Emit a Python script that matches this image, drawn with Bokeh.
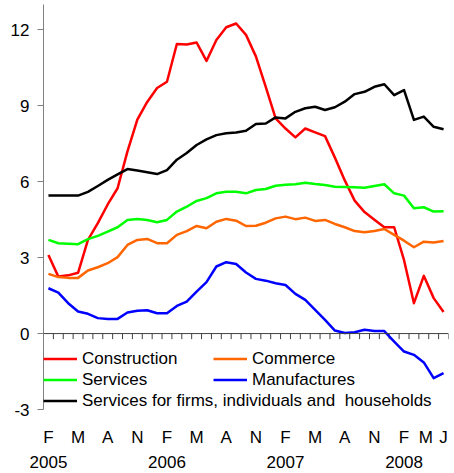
import numpy as np
import pandas as pd
from bokeh.plotting import figure
from bokeh.models import Range1d, LinearAxis, FixedTicker, Span, Legend, LegendItem
from bokeh.embed import file_html
from bokeh.resources import INLINE

# Monthly periods: Feb 2005 .. Jun 2008
periods = pd.date_range("2005-02-01", "2008-06-01", freq="MS")

construction = [3.1, 2.25, 2.3, 2.4, 3.7, 4.36, 5.1, 5.74, 7.2, 8.45,
                9.15, 9.7, 9.95, 11.44, 11.42, 11.5, 10.77, 11.6, 12.1, 12.25,
                11.8, 10.95, 9.75, 8.5, 8.1, 7.75, 8.1, 7.95, 7.8, 6.95,
                6.05, 5.25, 4.8, 4.5, 4.2, 4.2, 2.9, 1.2, 2.28, 1.4, 0.85]
commerce = [2.36, 2.23, 2.2, 2.2, 2.49, 2.62, 2.78, 3.02, 3.5, 3.7,
            3.74, 3.57, 3.57, 3.9, 4.05, 4.25, 4.16, 4.42, 4.53, 4.46,
            4.25, 4.26, 4.38, 4.55, 4.62, 4.52, 4.58, 4.45, 4.49, 4.33,
            4.2, 4.05, 4.0, 4.05, 4.13, 3.9, 3.67, 3.41, 3.63, 3.6, 3.66]
services = [3.7, 3.57, 3.55, 3.53, 3.73, 3.86, 4.03, 4.2, 4.49, 4.53,
            4.49, 4.4, 4.49, 4.82, 5.01, 5.24, 5.35, 5.54, 5.6, 5.6,
            5.54, 5.67, 5.71, 5.84, 5.88, 5.9, 5.96, 5.91, 5.87, 5.8,
            5.79, 5.78, 5.76, 5.83, 5.9, 5.54, 5.45, 4.95, 4.99, 4.82, 4.83]
manufactures = [1.79, 1.62, 1.2, 0.87, 0.78, 0.61, 0.58, 0.58, 0.83, 0.9,
                0.92, 0.8, 0.8, 1.09, 1.26, 1.66, 2.03, 2.65, 2.82, 2.75,
                2.41, 2.16, 2.09, 1.99, 1.92, 1.57, 1.33, 0.94, 0.54, 0.12,
                0.02, 0.05, 0.15, 0.1, 0.1, -0.32, -0.71, -0.84, -1.14, -1.76, -1.56]
firms = [5.45, 5.45, 5.45, 5.45, 5.6, 5.83, 6.07, 6.29, 6.5, 6.44,
         6.37, 6.3, 6.46, 6.87, 7.13, 7.45, 7.67, 7.84, 7.91, 7.94,
         8.01, 8.28, 8.3, 8.54, 8.5, 8.76, 8.9, 8.96, 8.83, 8.94,
         9.16, 9.46, 9.55, 9.75, 9.85, 9.42, 9.62, 8.44, 8.57, 8.17, 8.07]

series_names = ["Construction", "Commerce", "Services", "Manufactures",
                "Services for firms, individuals and  households"]
series_colors = ["#FF0000", "#FF6600", "#00FF00", "#0000FF", "#000000"]

y_ticks = [-3, 0, 3, 6, 9, 12]
y_tick_labels = ["-3", "0", "3", "6", "9", "12"]
month_tick_pos = [0, 3, 6, 9, 12, 15, 18, 21, 24, 27, 30, 33, 36, 38.2, 40]
month_tick_labels = ["F", "M", "A", "N", "F", "M", "A", "N",
                     "F", "M", "A", "N", "F", "M", "J"]
year_tick_pos = [0, 12, 24, 36]
year_tick_labels = ["2005", "2006", "2007", "2008"]

FONT = "Liberation Sans"
FS = "17px"

x = np.arange(len(periods))

p = figure(width=454, height=473, output_backend="svg", toolbar_location=None,
           x_range=Range1d(-0.5, 40.5), y_range=Range1d(-3, 13),
           x_axis_type=None, y_axis_type=None,
           min_border_left=43, min_border_right=6, min_border_top=4,
           min_border_bottom=64)
p.outline_line_color = None
p.background_fill_color = "white"
p.border_fill_color = "white"

# y axis
yaxis = LinearAxis(ticker=FixedTicker(ticks=y_ticks))
yaxis.major_label_overrides = {k: v for k, v in zip(y_ticks, y_tick_labels)}
yaxis.axis_line_color = "#808080"
yaxis.major_tick_line_color = "#808080"
yaxis.major_tick_out = 6
yaxis.major_tick_in = 0
yaxis.minor_tick_line_color = None
yaxis.major_label_standoff = 8
yaxis.major_label_text_font = FONT
yaxis.major_label_text_font_size = FS
yaxis.major_label_text_color = "black"
p.add_layout(yaxis, "left")

# month labels axis
maxis = LinearAxis(ticker=FixedTicker(ticks=month_tick_pos))
maxis.major_label_overrides = {k: v for k, v in zip(month_tick_pos, month_tick_labels)}
maxis.axis_line_color = None
maxis.major_tick_line_color = None
maxis.major_tick_out = 0
maxis.major_tick_in = 0
maxis.minor_tick_line_color = None
maxis.minor_tick_out = 0
maxis.major_label_standoff = 18
maxis.major_label_text_font = FONT
maxis.major_label_text_font_size = FS
maxis.major_label_text_color = "black"
p.add_layout(maxis, "below")

# year labels axis
yraxis = LinearAxis(ticker=FixedTicker(ticks=year_tick_pos))
yraxis.major_label_overrides = {k: v for k, v in zip(year_tick_pos, year_tick_labels)}
yraxis.axis_line_color = None
yraxis.major_tick_line_color = None
yraxis.major_tick_out = 0
yraxis.major_tick_in = 0
yraxis.minor_tick_line_color = None
yraxis.minor_tick_out = 0
yraxis.major_label_standoff = 6
yraxis.major_label_text_font = FONT
yraxis.major_label_text_font_size = FS
yraxis.major_label_text_color = "black"
p.add_layout(yraxis, "below")

# zero line with monthly ticks
p.add_layout(Span(location=0, dimension="width", line_color="#404040", line_width=1))
edges = np.arange(len(periods) + 1) - 0.5
p.segment(x0=edges, y0=0, x1=edges, y1=-0.22, line_color="#404040", line_width=1)

renderers = []
for vals, col in zip([construction, commerce, services, manufactures, firms], series_colors):
    r = p.line(x, vals, line_color=col, line_width=2.5, line_join="round")
    renderers.append(r)

def make_legend(idx, loc):
    lg = Legend(items=[LegendItem(label=series_names[i], renderers=[renderers[i]]) for i in idx],
                location=loc, orientation="vertical",
                glyph_width=34, glyph_height=21, label_height=21, label_standoff=5,
                spacing=0, padding=0, margin=0,
                border_line_color=None, background_fill_alpha=0,
                label_text_font=FONT, label_text_font_size=FS, label_text_color="black")
    return lg

p.add_layout(make_legend([0, 2, 4], (0, -2)))
p.add_layout(make_legend([1, 3], (170, 19)))

open("out.html", "w").write(file_html(p, INLINE))
